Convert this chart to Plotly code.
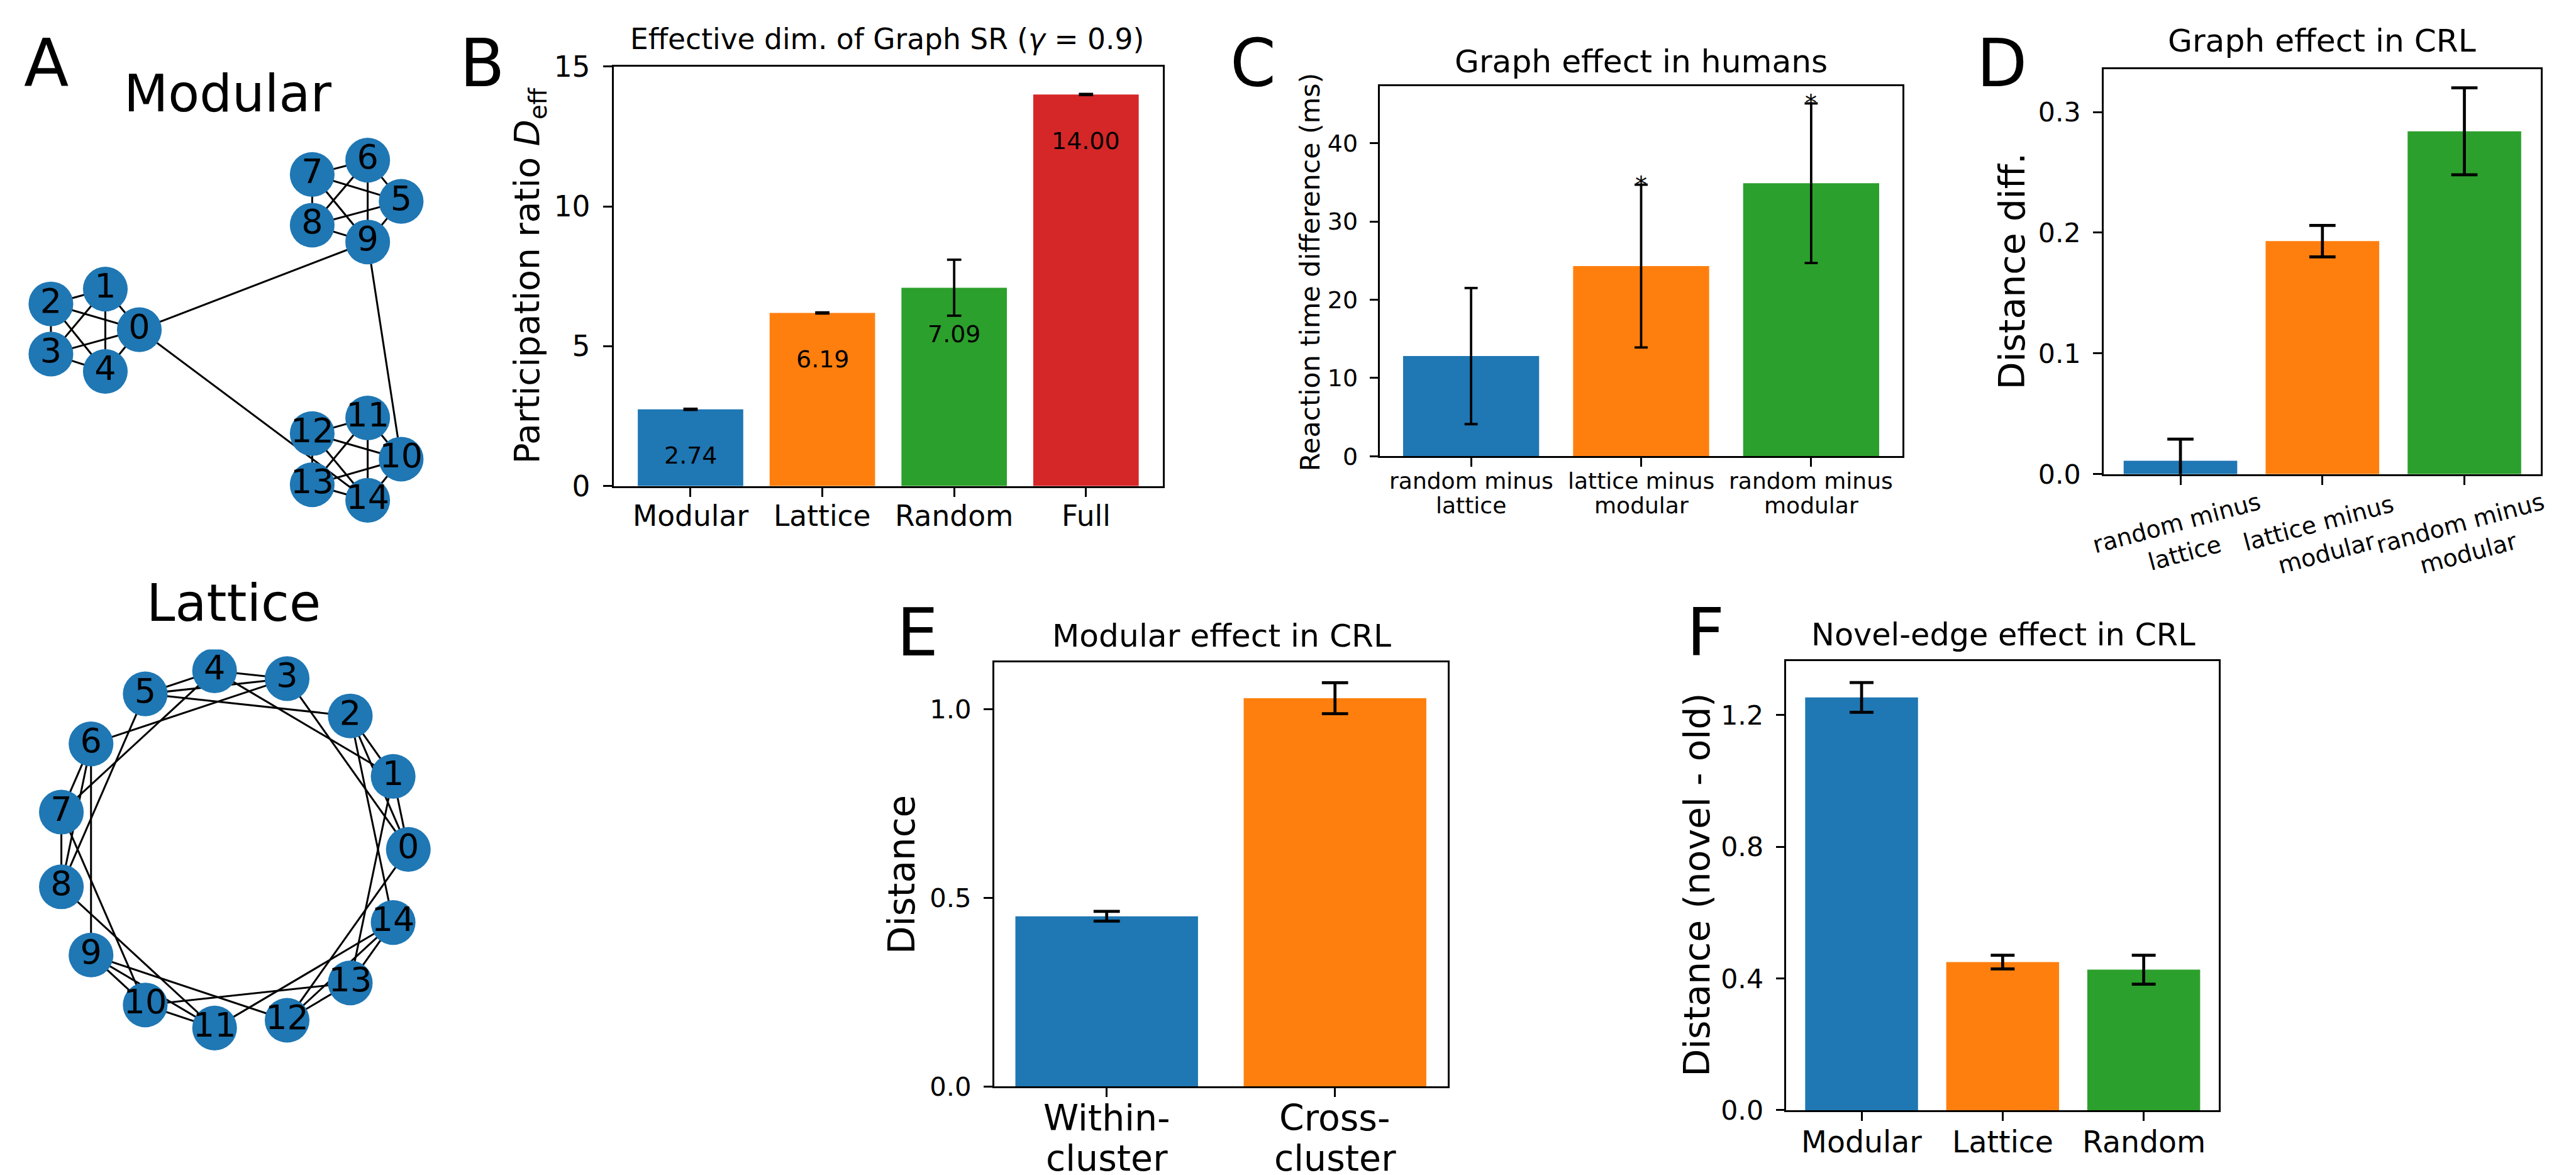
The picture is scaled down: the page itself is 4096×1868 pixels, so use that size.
import math
import plotly.graph_objects as go

REF_W, REF_H = 4318, 1969
W, H = 4096, 1868
S = W / REF_W
FONT = "DejaVu Sans"
BLUE, ORANGE, GREEN, RED = "#1f77b4", "#ff7f0e", "#2ca02c", "#d62728"

# ---------------- data ----------------
# Panel A: modular graph (spring-layout positions, layout units)
modular_x = [-0.483, -0.673, -0.977, -0.977, -0.673, 0.980, 0.793, 0.483, 0.483, 0.793,
             0.980, 0.793, 0.483, 0.483, 0.793]
modular_y = [0.003, 0.230, 0.147, -0.133, -0.230, 0.720, 0.950, 0.870, 0.587, 0.493,
             -0.720, -0.490, -0.577, -0.863, -0.950]
modular_edges = [(0, 1), (0, 2), (0, 3), (0, 4), (1, 2), (1, 3), (1, 4), (2, 3), (2, 4), (3, 4),
                 (5, 6), (5, 7), (5, 8), (5, 9), (6, 7), (6, 8), (6, 9), (7, 8), (7, 9), (8, 9),
                 (10, 11), (10, 12), (10, 13), (10, 14), (11, 12), (11, 13), (11, 14), (12, 13),
                 (12, 14), (13, 14), (0, 9), (0, 14), (9, 10)]
# Panel A: lattice graph (circular layout)
lattice_nodes = list(range(15))
lattice_edges = [(0, 3), (1, 4), (2, 5), (3, 6), (4, 7), (5, 8), (6, 9), (7, 10), (8, 11), (9, 12),
                 (10, 13), (11, 14), (12, 0), (13, 1), (14, 2),
                 (0, 1), (1, 2), (0, 2), (3, 4), (4, 5), (3, 5), (6, 7), (7, 8), (6, 8),
                 (9, 10), (10, 11), (9, 11), (12, 13), (13, 14), (12, 14)]

# Panel B
b_cats = ["Modular", "Lattice", "Random", "Full"]
b_vals = [2.74, 6.19, 7.09, 14.00]
b_errs = [0.02, 0.02, 1.00, 0.02]
# Panel C
c_cats = [["random minus", "lattice"], ["lattice minus", "modular"], ["random minus", "modular"]]
c_vals = [12.8, 24.3, 34.9]
c_errs = [8.7, 10.4, 10.2]
c_sig = ["", "*", "*"]
# Panel D
d_cats = [["random minus", "lattice"], ["lattice minus", "modular"], ["random minus", "modular"]]
d_vals = [0.011, 0.193, 0.284]
d_errs = [0.018, 0.013, 0.036]
# Panel E
e_cats = [["Within-", "cluster"], ["Cross-", "cluster"]]
e_vals = [0.451, 1.029]
e_errs = [0.013, 0.041]
# Panel F
f_cats = ["Modular", "Lattice", "Random"]
f_vals = [1.254, 0.450, 0.427]
f_errs = [0.045, 0.021, 0.044]

# ---------------- helpers ----------------
fig = go.Figure()
layout = dict(width=W, height=H, margin=dict(l=0, r=0, t=0, b=0), template="none",
              paper_bgcolor="white", plot_bgcolor="white", showlegend=False,
              font=dict(family=FONT, color="black"))
annotations = []

LW = 3.2 * S      # spine width
TL = 14.6 * S     # tick length


def keys(i):
    return ("xaxis" if i == 1 else f"xaxis{i}", "yaxis" if i == 1 else f"yaxis{i}",
            "x" if i == 1 else f"x{i}", "y" if i == 1 else f"y{i}")


def add_text(text, xf, yf, size, angle=0, xref="paper", xval=None):
    annotations.append(dict(
        text=text, x=(xval if xval is not None else xf / REF_W), y=1 - yf / REF_H,
        xref=xref, yref="paper", showarrow=False, textangle=angle,
        font=dict(family=FONT, size=size * S, color="black"),
        xanchor="center", yanchor="middle"))


def graph_axes(i, box, center, scale):
    x0, y0, x1, y1 = box
    cx, cy = center
    sx, sy = scale
    xk, yk, xr, yr = keys(i)
    layout[xk] = dict(domain=[x0 / REF_W, x1 / REF_W], range=[(x0 - cx) / sx, (x1 - cx) / sx],
                      visible=False, fixedrange=True, anchor=yr)
    layout[yk] = dict(domain=[1 - y1 / REF_H, 1 - y0 / REF_H], range=[(cy - y1) / sy, (cy - y0) / sy],
                      visible=False, fixedrange=True, anchor=xr)
    return xr, yr


def draw_graph(i, xs, ys, edges, labels):
    _, _, xr, yr = keys(i)
    ex, ey = [], []
    for a, b in edges:
        ex += [xs[a], xs[b], None]
        ey += [ys[a], ys[b], None]
    fig.add_trace(go.Scatter(x=ex, y=ey, mode="lines", line=dict(color="black", width=3.2 * S),
                             xaxis=xr, yaxis=yr, hoverinfo="skip"))
    fig.add_trace(go.Scatter(x=xs, y=ys, mode="markers+text", text=labels,
                             textposition="middle center",
                             textfont=dict(family=FONT, size=57 * S, color="black"),
                             marker=dict(size=75 * S, color=BLUE, line=dict(width=0)),
                             xaxis=xr, yaxis=yr, hoverinfo="skip"))


def bar_axes(i, box, xrange_, yrange_, ytickvals, yticktext, yfont, xtickvals):
    x0, y0, x1, y1 = box
    xk, yk, xr, yr = keys(i)
    common = dict(showline=True, linecolor="black", linewidth=LW, mirror=True, ticks="outside",
                  ticklen=TL, tickwidth=LW, tickcolor="black", showgrid=False, zeroline=False,
                  fixedrange=True)
    layout[xk] = dict(domain=[x0 / REF_W, x1 / REF_W], range=xrange_, tickmode="array",
                      tickvals=xtickvals, showticklabels=False, anchor=yr, **common)
    layout[yk] = dict(domain=[1 - y1 / REF_H, 1 - y0 / REF_H], range=yrange_, tickmode="array",
                      tickvals=ytickvals, ticktext=yticktext, tickfont=dict(family=FONT, size=yfont * S),
                      ticklabelstandoff=round(12 * S), anchor=xr, **common)
    return xr, yr


def draw_bars(i, vals, errs, colors, thick, capw):
    _, _, xr, yr = keys(i)
    fig.add_trace(go.Bar(x=list(range(len(vals))), y=vals, width=0.8,
                         marker=dict(color=colors, line=dict(width=0)),
                         error_y=dict(type="data", array=errs, visible=True, color="black",
                                      thickness=thick * S, width=capw * S),
                         xaxis=xr, yaxis=yr, hoverinfo="skip"))


# ---------------- Panel A ----------------
graph_axes(1, (0, 180, 760, 900), (370, 545), (300, 300))
draw_graph(1, modular_x, modular_y, modular_edges, [str(k) for k in range(15)])

graph_axes(2, (0, 1080, 760, 1760), (382, 1415), (294, 301))
lat_x = [math.cos(2 * math.pi * k / len(lattice_nodes)) for k in lattice_nodes]
lat_y = [math.sin(2 * math.pi * k / len(lattice_nodes)) for k in lattice_nodes]
draw_graph(2, lat_x, lat_y, lattice_edges, [str(k) for k in lattice_nodes])

add_text("A", 69, 98, 110)
add_text("Modular", 373, 148, 86)
add_text("Lattice", 383, 1002, 86)

# ---------------- Panel B ----------------
n = len(b_vals)
bar_axes(3, (1020, 103, 1941, 806), [-0.584, n - 1 + 0.584], [0, 15],
         [0, 5, 10, 15], ["0", "5", "10", "15"], 48, list(range(n)))
draw_bars(3, b_vals, b_errs, [BLUE, ORANGE, GREEN, RED], 4.0, 12)
for k, v in enumerate(b_vals):
    annotations.append(dict(text=f"{v:.2f}", x=k, y=v - 1.65, xref="x3", yref="y3", showarrow=False,
                            font=dict(family=FONT, size=40 * S, color="black"),
                            xanchor="center", yanchor="middle"))
    add_text(b_cats[k], 0, 856, 48, xref="x3", xval=k)
add_text("B", 800, 98, 110)
add_text("Effective dim. of Graph SR (<i>γ</i> = 0.9)", 1479, 57, 48)
add_text("Participation ratio <i>D</i><sub>eff</sub>", 879, 453, 58, angle=-90)

# ---------------- Panel C ----------------
n = len(c_vals)
bar_axes(4, (2305, 136, 3180, 756), [-0.535, n - 1 + 0.535], [0, 47.3],
         [0, 10, 20, 30, 40], ["0", "10", "20", "30", "40"], 40, list(range(n)))
draw_bars(4, c_vals, c_errs, [BLUE, ORANGE, GREEN], 4.0, 11)
for k, (v, e, s) in enumerate(zip(c_vals, c_errs, c_sig)):
    if s:
        annotations.append(dict(text=s, x=k, y=v + e, xref="x4", yref="y4", showarrow=False,
                                font=dict(family=FONT, size=40 * S, color="black"),
                                xanchor="center", yanchor="middle"))
    add_text(c_cats[k][0], 0, 797, 38, xref="x4", xval=k)
    add_text(c_cats[k][1], 0, 839, 38, xref="x4", xval=k)
add_text("C", 2092, 98, 110)
add_text("Graph effect in humans", 2742, 94, 53)
add_text("Reaction time difference (ms)", 2187, 448, 45, angle=-90)

# ---------------- Panel D ----------------
n = len(d_vals)
bar_axes(5, (3518, 107, 4251, 786), [-0.54, n - 1 + 0.54], [0, 0.3357],
         [0, 0.1, 0.2, 0.3], ["0.0", "0.1", "0.2", "0.3"], 45, list(range(n)))
draw_bars(5, d_vals, d_errs, [BLUE, ORANGE, GREEN], 5.0, 22)
for k, lab in enumerate(d_cats):
    add_text("<br>".join(lab), 0, 893, 40, angle=-15, xref="x5", xval=k)
add_text("D", 3347, 98, 110)
add_text("Graph effect in CRL", 3884, 60, 53)
add_text("Distance diff.", 3364, 446, 60, angle=-90)

# ---------------- Panel E ----------------
n = len(e_vals)
bar_axes(6, (1658, 1102, 2418, 1812), [-0.493, n - 1 + 0.493], [0, 1.1234],
         [0, 0.5, 1.0], ["0.0", "0.5", "1.0"], 44, list(range(n)))
draw_bars(6, e_vals, e_errs, [BLUE, ORANGE], 5.0, 22)
for k, lab in enumerate(e_cats):
    add_text(lab[0], 0, 1865, 60, xref="x6", xval=k)
    add_text(lab[1], 0, 1932, 60, xref="x6", xval=k)
add_text("E", 1530, 1052, 110)
add_text("Modular effect in CRL", 2039, 1057, 53)
add_text("Distance", 1504, 1457, 61, angle=-90)

# ---------------- Panel F ----------------
n = len(f_vals)
bar_axes(7, (2986, 1099, 3711, 1852), [-0.533, n - 1 + 0.533], [0, 1.365],
         [0, 0.4, 0.8, 1.2], ["0.0", "0.4", "0.8", "1.2"], 45, list(range(n)))
draw_bars(7, f_vals, f_errs, [BLUE, ORANGE, GREEN], 5.0, 20)
for k, lab in enumerate(f_cats):
    add_text(lab, 0, 1905, 50, xref="x7", xval=k)
add_text("F", 2851, 1052, 110)
add_text("Novel-edge effect in CRL", 3350, 1055, 52)
add_text("Distance (novel - old)", 2836, 1474, 60, angle=-90)

layout["annotations"] = annotations
fig.update_layout(**layout)
fig.write_html("out.html")
